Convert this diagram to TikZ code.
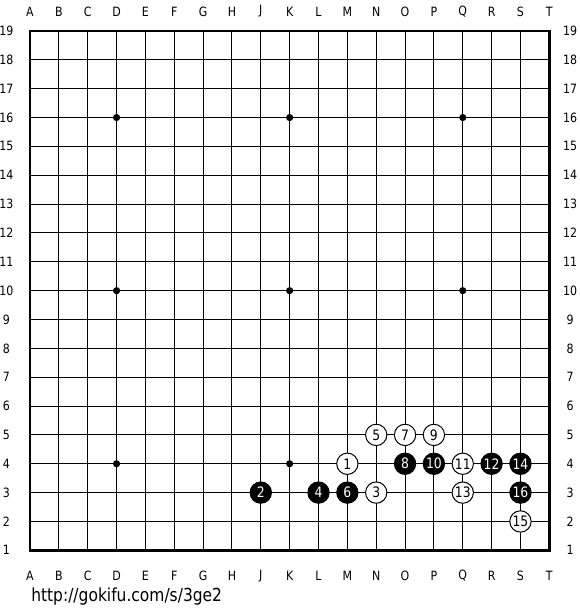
\documentclass[tikz,border=0pt]{standalone}
\usepackage{fontspec}
\setmainfont{DejaVu Sans}[FakeStretch=0.86]
\begin{document}
\begin{tikzpicture}[x=0.75pt,y=-0.75pt,
  lbl/.style={font=\fontsize{9.6pt}{10pt}\selectfont, inner sep=0pt},
  stone/.style={circle,draw=black,line width=0.75pt,minimum size=16pt,inner sep=0pt,font=\fontsize{10.8pt}{11pt}\selectfont},
  wst/.style={stone,fill=white,text=black},
  bst/.style={stone,fill=black,text=white},
  star/.style={circle,fill=black,minimum size=5.4pt,inner sep=0pt},
  grid/.style={line width=0.75pt},
  border/.style={line width=2pt}]
\useasboundingbox (0,0) rectangle (580,610);
\fill[white] (0,0) rectangle (580,610);
\def\xo{30}\def\yo{31}\def\sp{28.85}
% grid
\foreach \i in {1,...,17} {
  \draw[grid] ({\xo+\sp*\i},\yo) -- ({\xo+\sp*\i},{\yo+18*\sp});
  \draw[grid] (\xo,{\yo+\sp*\i}) -- ({\xo+18*\sp},{\yo+\sp*\i});
}
\draw[border] (\xo,\yo) rectangle ({\xo+18*\sp},{\yo+18*\sp});
% labels
\foreach \l [count=\c from 0] in {A,B,C,D,E,F,G,H,J,K,L,M,N,O,P,Q,R,S,T} {
  \node[lbl] (top\l) at ({\xo+\sp*\c},11.5) {\l};
  \node[lbl] (bot\l) at ({\xo+\sp*\c},576) {\l};
}
\foreach \r in {1,...,19} {
  \node[lbl] (left\r) at (6.5,{\yo+\sp*(19-\r)}) {\r};
  \node[lbl] (right\r) at (570,{\yo+\sp*(19-\r)}) {\r};
}
% star points
\foreach \c/\n in {3/D,9/K,15/Q} {
  \foreach \r in {4,10,16} {
    \node[star] (star\n\r) at ({\xo+\sp*\c},{\yo+\sp*(19-\r)}) {};
  }
}
% stones: column index (A=0), row
\newcommand{\gpos}[2]{({\xo+\sp*#1},{\yo+\sp*(19-#2)})}
\node[wst] (m1) at \gpos{11}{4} {1};
\node[bst] (m2) at \gpos{8}{3} {2};
\node[wst] (m3) at \gpos{12}{3} {3};
\node[bst] (m4) at \gpos{10}{3} {4};
\node[wst] (m5) at \gpos{12}{5} {5};
\node[bst] (m6) at \gpos{11}{3} {6};
\node[wst] (m7) at \gpos{13}{5} {7};
\node[bst] (m8) at \gpos{13}{4} {8};
\node[wst] (m9) at \gpos{14}{5} {9};
\node[bst] (m10) at \gpos{14}{4} {10};
\node[wst] (m11) at \gpos{15}{4} {11};
\node[bst] (m12) at \gpos{16}{4} {12};
\node[wst] (m13) at \gpos{15}{3} {13};
\node[bst] (m14) at \gpos{17}{4} {14};
\node[wst] (m15) at \gpos{17}{2} {15};
\node[bst] (m16) at \gpos{17}{3} {16};
% url
\node[anchor=base west,inner sep=0pt,font=\fontsize{13.5pt}{15pt}\selectfont] (url) at (31,601) {http://gokifu.com/s/3ge2};
\end{tikzpicture}
\end{document}
